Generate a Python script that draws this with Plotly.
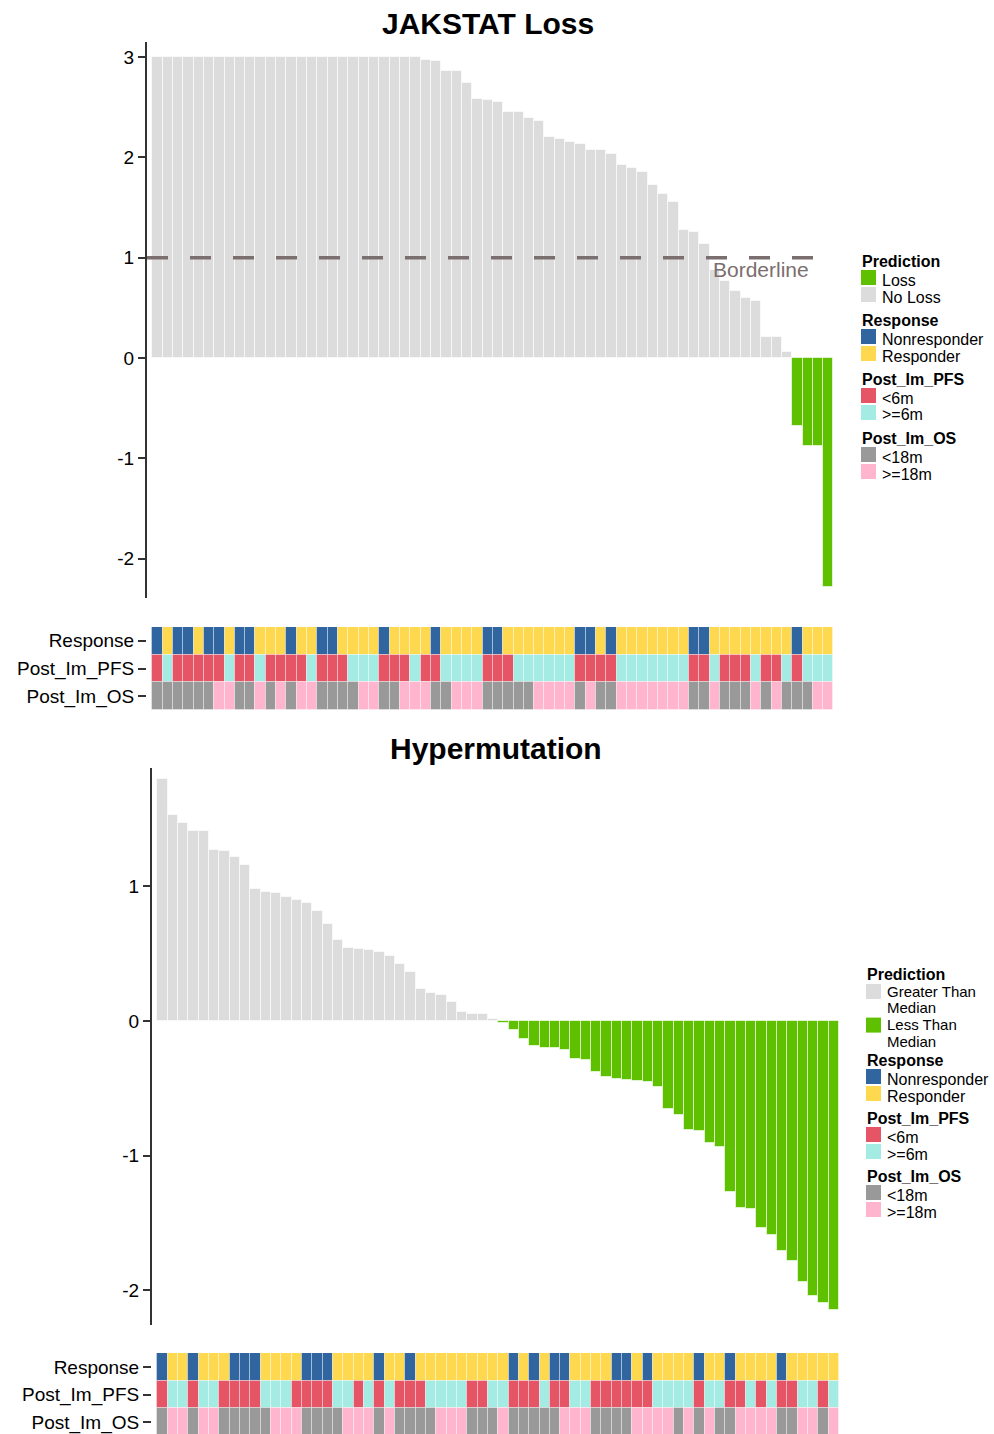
import plotly.graph_objects as go

W, H = 994, 1434
FONT = "Liberation Sans, Arial, Helvetica, sans-serif"

# ---------------- data ----------------
# JAKSTAT loss score per patient (sorted, descending)
jak_scores = [
    3.0, 3.0, 3.0, 3.0, 3.0, 3.0, 3.0, 3.0, 3.0, 3.0,
    3.0, 3.0, 3.0, 3.0, 3.0, 3.0, 3.0, 3.0, 3.0, 3.0,
    3.0, 3.0, 3.0, 3.0, 3.0, 3.0, 2.97, 2.96, 2.865, 2.865,
    2.745, 2.585, 2.575, 2.555, 2.45, 2.45, 2.39, 2.365, 2.20, 2.185,
    2.155, 2.135, 2.07, 2.07, 2.03, 1.92, 1.89, 1.85, 1.73, 1.635,
    1.555, 1.28, 1.26, 1.137, 0.88, 0.77, 0.67, 0.595, 0.565, 0.21,
    0.21, 0.06, -0.68, -0.88, -0.88, -2.28,
]
jak_borderline = 1.0
jak_ticks = [-2, -1, 0, 1, 2, 3]

# N = Nonresponder, R = Responder
jak_response = list("NRNNRNNRNN" "RRRNRRNNRR" "RRNRRRRNRR" "RRNNRRRRRR"
                    "RNNRNRRRRR" "RRNNRRRRRR" "RRNRRR")
# S = <6m, L = >=6m
jak_pfs = list("SLSSSSSLSS" "LSSSSLSSSL" "LLSSSLSSLL" "LLSSSLLLLL"
               "LSSSSLLLLL" "LLSSLSSSLS" "SLSLLL")
# S = <18m, L = >=18m
jak_os = list("SSSSSSLLSS" "LSLSLLSSSS" "LLSSLLLSSL" "LLSSSSSLLL"
              "LSLSSLLLLL" "LLSSLSSSLS" "LSSSLL")

# Hypermutation score per patient (sorted, descending)
hyp_scores = [
    1.80, 1.53, 1.475, 1.41, 1.41, 1.27, 1.26, 1.22, 1.16, 0.98,
    0.955, 0.95, 0.925, 0.90, 0.88, 0.82, 0.72, 0.60, 0.54, 0.535,
    0.53, 0.51, 0.485, 0.42, 0.365, 0.24, 0.205, 0.19, 0.14, 0.067,
    0.05, 0.05, 0.015, -0.015, -0.07, -0.134, -0.183, -0.20, -0.20, -0.213,
    -0.285, -0.29, -0.376, -0.413, -0.433, -0.435, -0.446, -0.453, -0.49, -0.654,
    -0.698, -0.807, -0.817, -0.909, -0.938, -1.27, -1.387, -1.40, -1.54, -1.588,
    -1.707, -1.783, -1.937, -2.043, -2.093, -2.147,
]
hyp_ticks = [-2, -1, 0, 1]
hyp_response = list("NRRNRRRNNN" "RRRRNNNRRR" "RNRRNRRRRR" "RRRRNRNRNN"
                    "RRRRNNRNRR" "RRNRRNRRRR" "NRRRRR")
hyp_pfs = list("SLLSLLSSSS" "LLLSSSSLLS" "LSLSSSLLLL" "SSLLSSSLSS"
               "LLSSSSSSLL" "LLSLLSSLSL" "SSLLSL")
hyp_os = list("SLLSLLSSSS" "SLLLSSSSLL" "LSLSSSSLLL" "SSSLSSSSSL"
              "LLSSSSLLLL" "SLSLSSLLLL" "SSLLSL")

track_names = ["Response", "Post_Im_PFS", "Post_Im_OS"]

# ---------------- colours ----------------
GREEN = "#5fc000"
LIGHT = "#dcdcdc"
RESP_COL = {"N": "#31659f", "R": "#fed94f"}
PFS_COL = {"S": "#e55566", "L": "#a3ebe3"}
OS_COL = {"S": "#999999", "L": "#ffb5cd"}
AXIS_COL = "#333333"
BORDER_COL = "#7b6e6e"


def fx(p):
    return p / W


def fy(p):
    return 1 - p / H


fig = go.Figure()


def add_panel(n_ax, scores, tracks):
    """Waterfall bars on axis pair n_ax and annotation tracks on n_ax+1."""
    idx = list(range(len(scores)))
    cols = [GREEN if s < 0 else LIGHT for s in scores]
    sfx = "" if n_ax == 1 else str(n_ax)
    fig.add_trace(go.Bar(
        x=idx, y=scores, width=1, marker_color=cols,
        marker_line=dict(color="rgba(255,255,255,0.6)", width=1),
        xaxis="x" + sfx, yaxis="y" + sfx, showlegend=False,
    ))
    tsfx = str(n_ax + 1)
    for row, (vals, cmap) in enumerate(tracks):
        fig.add_trace(go.Bar(
            x=idx, y=[1] * len(vals), base=[row - 0.5] * len(vals), width=1,
            marker_color=[cmap[v] for v in vals],
            marker_line=dict(color="rgba(255,255,255,0.35)", width=1),
            xaxis="x" + tsfx, yaxis="y" + tsfx, showlegend=False,
        ))


add_panel(1, jak_scores,
          [(jak_response, RESP_COL), (jak_pfs, PFS_COL), (jak_os, OS_COL)])
add_panel(3, hyp_scores,
          [(hyp_response, RESP_COL), (hyp_pfs, PFS_COL), (hyp_os, OS_COL)])

hidden_x = dict(showgrid=False, zeroline=False, showline=False,
                showticklabels=False, ticks="", fixedrange=True)
main_y = dict(showgrid=False, zeroline=False, showline=True,
              linecolor=AXIS_COL, linewidth=2, ticks="outside", ticklen=7,
              tickwidth=1.5, tickcolor=AXIS_COL,
              tickfont=dict(family=FONT, size=19, color="#000"))
track_y = dict(showgrid=False, zeroline=False, showline=False,
               ticks="outside", ticklen=8, tickwidth=1.5, tickcolor=AXIS_COL,
               tickvals=[0, 1, 2], ticktext=track_names,
               tickfont=dict(family=FONT, size=19, color="#000"))


def tick_text(vals):
    # plain hyphen-minus for negative labels
    return [str(v) for v in vals]


# JAKSTAT panel geometry
jx = [fx(147), fx(834.5)]
jrange = [-1.01, 65.6]
# Hypermutation panel geometry
hx = [fx(152), fx(839.5)]
hrange = [-1.01, 65.54]

fig.update_layout(
    width=W, height=H, autosize=False,
    margin=dict(l=0, r=0, t=0, b=0),
    paper_bgcolor="white", plot_bgcolor="white",
    barmode="overlay", bargap=0,
    font=dict(family=FONT, color="#000"),
    xaxis=dict(domain=jx, range=jrange, anchor="y", **hidden_x),
    yaxis=dict(domain=[fy(598), fy(42)], range=[-2.393, 3.151],
               tickvals=jak_ticks, ticktext=tick_text(jak_ticks),
               anchor="x", **main_y),
    xaxis2=dict(domain=jx, range=jrange, anchor="y2", **hidden_x),
    yaxis2=dict(domain=[fy(710), fy(627)], range=[2.5, -0.5],
                anchor="x2", **track_y),
    xaxis3=dict(domain=hx, range=hrange, anchor="y3", **hidden_x),
    yaxis3=dict(domain=[fy(1325), fy(768)], range=[-2.259, 1.880],
                tickvals=hyp_ticks, ticktext=tick_text(hyp_ticks),
                anchor="x3", **main_y),
    xaxis4=dict(domain=hx, range=hrange, anchor="y4", **hidden_x),
    yaxis4=dict(domain=[0, fy(1353)], range=[2.424, -0.5],
                anchor="x4", **track_y),
)

# Borderline threshold on the JAKSTAT panel
fig.add_shape(type="line", xref="x domain", yref="y",
              x0=0, x1=(816 - 147) / (834.5 - 147),
              y0=jak_borderline, y1=jak_borderline,
              line=dict(color=BORDER_COL, width=3.5, dash="21px,22px"))
fig.add_annotation(text="Borderline", xref="x domain", yref="y",
                   x=(811 - 147) / (834.5 - 147), y=jak_borderline,
                   xanchor="right", yanchor="middle", yshift=-12,
                   showarrow=False,
                   font=dict(family=FONT, size=21, color=BORDER_COL))

# Titles
for text, cx, cy in [("JAKSTAT Loss", 488, 23), ("Hypermutation", 496, 749)]:
    fig.add_annotation(text="<b>%s</b>" % text, xref="paper", yref="paper",
                       x=fx(cx), y=fy(cy), xanchor="center", yanchor="middle",
                       showarrow=False,
                       font=dict(family=FONT, size=30, color="#000"))


def legend_text(text, x, y, size, bold=False):
    fig.add_annotation(text="<b>%s</b>" % text if bold else text,
                       xref="paper", yref="paper", x=fx(x), y=fy(y),
                       xanchor="left", yanchor="middle", showarrow=False,
                       font=dict(family=FONT, size=size, color="#000"))


def legend(x0, tx, groups):
    """groups: list of (header, header_y, [(label_lines, swatch_top, colour)])"""
    for header, hy, items in groups:
        legend_text(header, x0 - 1, hy, 16, bold=True)
        for lines, top, col in items:
            fig.add_shape(type="rect", xref="paper", yref="paper",
                          x0=fx(x0), x1=fx(x0 + 15), y0=fy(top + 15), y1=fy(top),
                          fillcolor=col, line=dict(width=0))
            if len(lines) == 1:
                legend_text(lines[0], tx - 1, top + 10, 16)
            else:
                # wrapped label, compact line pitch
                for i, ln in enumerate(lines):
                    legend_text(ln, tx - 1, top + 7 + 16.8 * i, 15)


def common_groups(h_resp, h_pfs, h_os):
    return [
        ("Response", h_resp, [(["Nonresponder"], h_resp + 9, RESP_COL["N"]),
                              (["Responder"], h_resp + 26, RESP_COL["R"])]),
        ("Post_Im_PFS", h_pfs, [(["<6m"], h_pfs + 9, PFS_COL["S"]),
                                ([">=6m"], h_pfs + 26, PFS_COL["L"])]),
        ("Post_Im_OS", h_os, [(["<18m"], h_os + 9, OS_COL["S"]),
                              ([">=18m"], h_os + 26, OS_COL["L"])]),
    ]


legend(861, 881,
       [("Prediction", 261, [(["Loss"], 270, GREEN),
                             (["No Loss"], 287, LIGHT)])]
       + common_groups(320, 379, 438))

legend(866, 886,
       [("Prediction", 974, [(["Greater Than", "Median"], 984, LIGHT),
                             (["Less Than", "Median"], 1017.6, GREEN)])]
       + common_groups(1060, 1118, 1176))

fig.write_html("out.html")
